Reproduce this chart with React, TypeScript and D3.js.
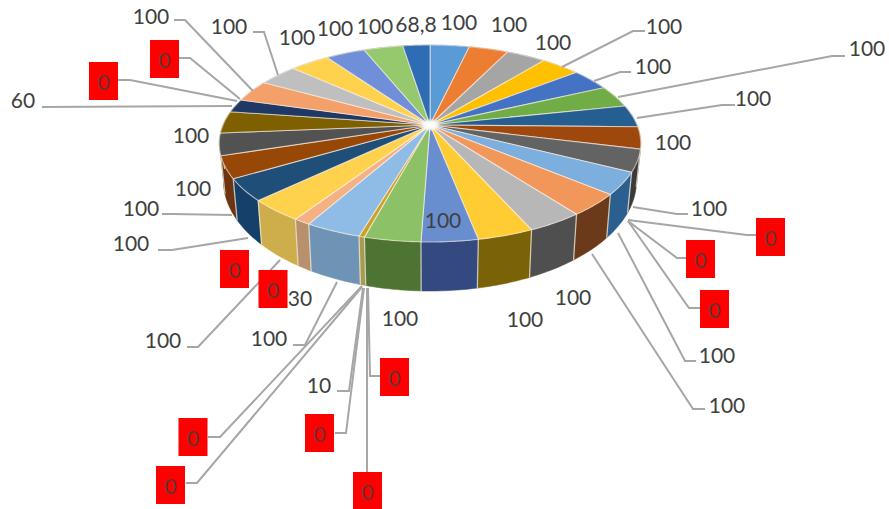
import React from "react";
import * as d3 from "d3";

// Slice values, clockwise from twelve o'clock.
const sliceValues = [
  100, 100, 100, 100, 100, 100, 100, 100, 100, 0, 0, 0, 100, 100, 100, 100, 100, 100, 0, 0, 0, 10, 0, 0,
  100, 30, 0, 0, 100, 100, 100, 100, 100, 60, 0, 0, 100, 100, 100, 100, 100, 68.8,
];
const sliceLabels = sliceValues.map((v) => String(v).replace(".", ","));

const topColors = [
  "#5B9BD5", "#ED7D31", "#A5A5A5", "#FFC000", "#4472C4", "#70AD47", "#255E91", "#9E480E", "#636363", "#997300", "#264478", "#43682B",
  "#7CAFDD", "#F1975A", "#B7B7B7", "#FFCD33", "#698ED0", "#8CC168", "#327DC2", "#D26012", "#848484", "#C9A227", "#2F5597", "#548235",
  "#8FBCE6", "#F4B183", "#C9C9C9", "#FFD966", "#FFD24D", "#1F4E79", "#974706", "#525252", "#7F6000", "#203864", "#385723", "#6FA8DC",
  "#F4A06A", "#BFBFBF", "#FFD24D", "#6F8FD8", "#96C86E", "#2E6DB4",
];
const sideColors = [
  "#2E5F8A", "#8A4A1C", "#5E5E5E", "#8F6E00", "#27437A", "#41662A", "#16395A", "#5E2B08", "#3A3A3A", "#5A4400", "#16294A", "#273E19",
  "#2A5F8F", "#6B3A1A", "#4F4F4F", "#7A6207", "#34497F", "#4E7433", "#1E4B75", "#7E3A0B", "#4F4F4F", "#A89A4E", "#1C3359", "#324E20",
  "#6F93B5", "#B8906B", "#808080", "#CDAE4B", "#CDAE4B", "#14406A", "#6E3410", "#3F3F3F", "#4C3A00", "#13223C", "#223415", "#3F6586",
  "#92603F", "#737373", "#99802E", "#435680", "#5A7842", "#1C426C",
];

type Placement = { i: number; x: number; y: number; boxed?: boolean; leader?: [number, number][] };

// Label centres and leader paths, keyed by slice index.
const placements: Placement[] = [
  { i: 0, x: 459, y: 22 },
  { i: 1, x: 509, y: 24 },
  { i: 2, x: 553, y: 42 },
  { i: 3, x: 664, y: 26, leader: [[562, 67], [633, 31], [645, 31]] },
  { i: 4, x: 653, y: 66, leader: [[594, 81], [620, 72], [631, 72]] },
  { i: 5, x: 867, y: 48, leader: [[618, 97], [832, 56], [845, 56]] },
  { i: 6, x: 753, y: 98, leader: [[637, 118], [722, 105], [735, 105]] },
  { i: 7, x: 673, y: 142 },
  { i: 8, x: 709, y: 208, leader: [[633, 207], [677, 214], [688, 214]] },
  { i: 9, x: 770.5, y: 237, boxed: true, leader: [[628, 220], [747, 235], [756, 235]] },
  { i: 10, x: 700.5, y: 259, boxed: true, leader: [[628, 221], [677, 258], [686, 258]] },
  { i: 11, x: 714.5, y: 309, boxed: true, leader: [[628, 221], [689, 308], [700, 308]] },
  { i: 12, x: 717, y: 355, leader: [[618, 233], [685, 361], [696, 361]] },
  { i: 13, x: 727, y: 405, leader: [[592, 254], [693, 409], [705, 409]] },
  { i: 14, x: 573, y: 297 },
  { i: 15, x: 525, y: 319 },
  { i: 16, x: 443, y: 220 },
  { i: 17, x: 400, y: 318 },
  { i: 18, x: 394.5, y: 377, boxed: true, leader: [[368, 288], [370, 376], [380, 376]] },
  { i: 19, x: 367.5, y: 491, boxed: true, leader: [[367, 288], [367, 472]] },
  { i: 20, x: 319.5, y: 433, boxed: true, leader: [[364, 288], [346, 433], [335, 433]] },
  { i: 21, x: 319, y: 385, leader: [[363, 288], [349, 391], [337, 391]] },
  { i: 22, x: 193, y: 437, boxed: true, leader: [[362, 286], [220, 437], [208, 437]] },
  { i: 23, x: 170.5, y: 485, boxed: true, leader: [[362, 287], [197, 483], [186, 483]] },
  { i: 24, x: 269, y: 338, leader: [[337, 282], [305, 345], [293, 345]] },
  { i: 25, x: 300, y: 298 },
  { i: 26, x: 273, y: 289, boxed: true },
  { i: 27, x: 234.5, y: 269, boxed: true },
  { i: 28, x: 163, y: 340, leader: [[280, 260], [198, 347], [187, 347]] },
  { i: 29, x: 131, y: 243, leader: [[248, 238], [172, 250], [158, 250]] },
  { i: 30, x: 141, y: 208, leader: [[232, 215], [172, 214], [162, 214]] },
  { i: 31, x: 193, y: 188 },
  { i: 32, x: 191, y: 135 },
  { i: 33, x: 23, y: 100, leader: [[232, 106], [42, 107]] },
  { i: 34, x: 103.5, y: 81, boxed: true, leader: [[237, 101], [130, 80], [118, 80]] },
  { i: 35, x: 164.5, y: 59, boxed: true, leader: [[240, 99], [190, 58], [179, 58]] },
  { i: 36, x: 151, y: 16, leader: [[253, 91], [185, 20], [174, 20]] },
  { i: 37, x: 229, y: 26, leader: [[278, 75], [264, 32], [253, 32]] },
  { i: 38, x: 297, y: 37 },
  { i: 39, x: 335, y: 28 },
  { i: 40, x: 375, y: 26 },
  { i: 41, x: 416, y: 24 },
];

// Perspective view of the disc: the circle becomes an ellipse whose centre
// sits below the point where the slices meet.
const HUB_X = 430;
const HUB_Y = 125;
const SCALE_X = 207;
const SCALE_Y = 95;
const TILT = 0.188;

type Pt = [number, number];

const topPoint = (angle: number): Pt => {
  const u = Math.sin(angle);
  const v = -Math.cos(angle);
  const w = 1 - TILT * v;
  return [HUB_X + (SCALE_X * u) / w, HUB_Y + (SCALE_Y * v) / w];
};

const bottomPoint = (angle: number): Pt => {
  const [x, y] = topPoint(angle);
  return [HUB_X + (x - HUB_X) * 0.98, 160 + (y - HUB_Y) * 1.12];
};

const arcAngles = (a0: number, a1: number) => {
  const n = Math.max(2, Math.ceil((a1 - a0) / (Math.PI / 180)));
  return d3.range(n + 1).map((k) => a0 + ((a1 - a0) * k) / n);
};

const closedPath = d3.line<Pt>().curve(d3.curveLinearClosed);
const openPath = d3.line<Pt>();

const BOX_W = 29;
const BOX_H = 38;
const FONT = "Lato, 'Open Sans', sans-serif";

export default function App() {
  const arcs = d3
    .pie<number>()
    .sort(null)
    .startAngle(0)
    .endAngle(2 * Math.PI)(sliceValues)
    .sort((a, b) => a.index - b.index);
  const visible = arcs.filter((a) => a.value > 0);
  // Rim pieces are painted from the far edge towards the viewer.
  const farToNear = [...visible].sort(
    (a, b) => Math.cos((b.startAngle + b.endAngle) / 2) - Math.cos((a.startAngle + a.endAngle) / 2)
  );

  return (
    <svg
      width={889}
      height={509}
      viewBox="0 0 889 509"
      style={{ position: "absolute", left: 0, top: 0, background: "#fff" }}
    >
      <defs>
        <radialGradient id="hubGlow">
          <stop offset="0%" stopColor="#fff" stopOpacity={1} />
          <stop offset="55%" stopColor="#fff" stopOpacity={0.75} />
          <stop offset="100%" stopColor="#fff" stopOpacity={0} />
        </radialGradient>
      </defs>
      <g>
        {farToNear.map((a) => {
          const angles = arcAngles(a.startAngle, a.endAngle);
          const pts: Pt[] = [...angles.map((t) => topPoint(t)), ...angles.slice().reverse().map(bottomPoint)];
          return <path key={a.index} d={closedPath(pts) ?? ""} fill={sideColors[a.index]} stroke={sideColors[a.index]} strokeWidth={0.5} />;
        })}
        {visible
          .filter((a) => Math.cos(a.startAngle) < 0.25)
          .map((a) => (
            <path
              key={a.index}
              d={openPath([topPoint(a.startAngle), bottomPoint(a.startAngle)]) ?? ""}
              stroke="#EFEBD8"
              strokeOpacity={0.75}
              strokeWidth={1.3}
              fill="none"
            />
          ))}
      </g>
      <g>
        {visible.map((a) => {
          const pts: Pt[] = [[HUB_X, HUB_Y], ...arcAngles(a.startAngle, a.endAngle).map((t) => topPoint(t))];
          return (
            <path
              key={a.index}
              d={closedPath(pts) ?? ""}
              fill={topColors[a.index]}
              stroke="#FFF4EA"
              strokeOpacity={0.6}
              strokeWidth={1.1}
              strokeLinejoin="round"
            />
          );
        })}
        <ellipse cx={HUB_X} cy={HUB_Y} rx={11} ry={7} fill="url(#hubGlow)" />
      </g>
      <g fill="none" stroke="#A6A6A6" strokeWidth={2}>
        {placements
          .filter((p) => p.leader)
          .map((p) => (
            <path key={p.i} d={openPath(p.leader as Pt[]) ?? ""} />
          ))}
      </g>
      <g fontFamily={FONT} fontSize={21} fill="#404040" textAnchor="middle">
        {placements.map((p) => (
          <g key={p.i}>
            {p.boxed && <rect x={p.x - BOX_W / 2} y={p.y - BOX_H / 2} width={BOX_W} height={BOX_H} fill="#FF0000" />}
            <text x={p.x} y={p.y} dy={p.boxed ? "0.42em" : "0.36em"} fill={p.boxed ? "#633434" : "#404040"}>
              {sliceLabels[p.i]}
            </text>
          </g>
        ))}
      </g>
    </svg>
  );
}
